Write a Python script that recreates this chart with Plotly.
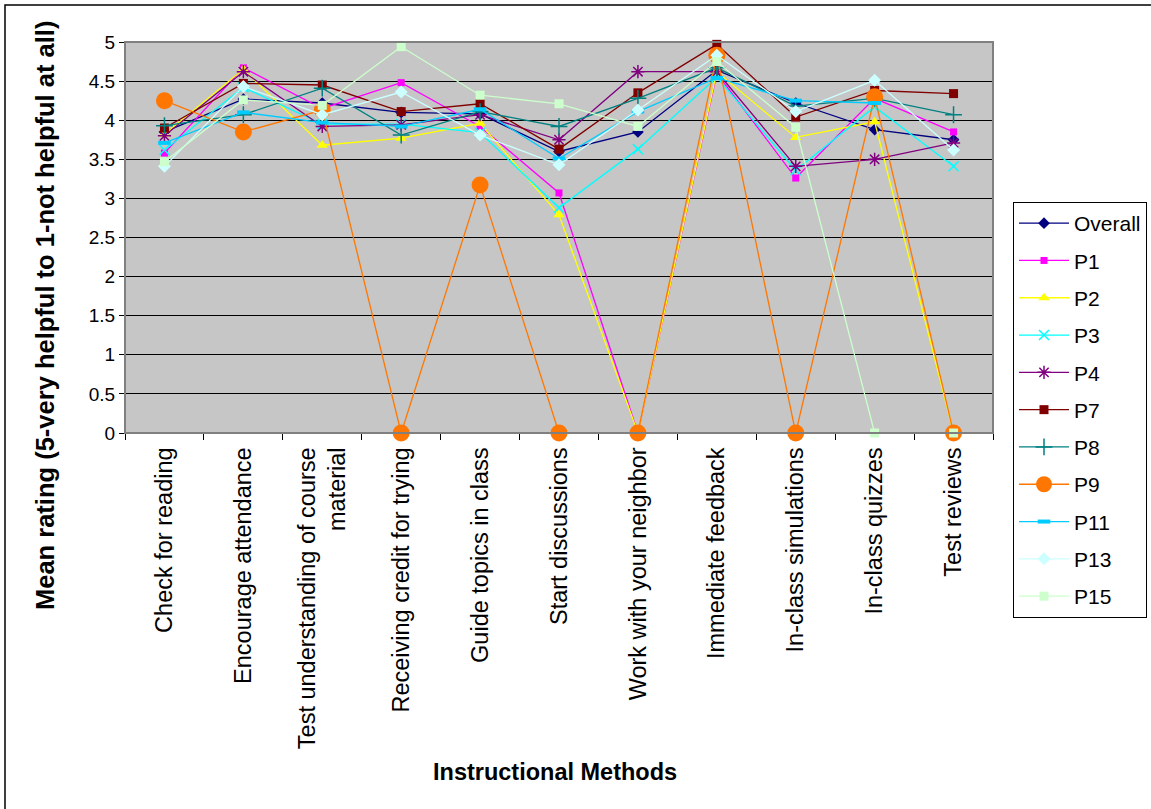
import plotly.graph_objects as go

# Instructional methods rated by each participant group
methods = [
    "Check for reading",
    "Encourage attendance",
    "Test understanding of course material",
    "Receiving credit for trying",
    "Guide topics in class",
    "Start discussions",
    "Work with your neighbor",
    "Immediate feedback",
    "In-class simulations",
    "In-class quizzes",
    "Test reviews",
]
method_labels = [
    "Check for reading",
    "Encourage attendance",
    "Test understanding of course<br>material",
    "Receiving credit for trying",
    "Guide topics in class",
    "Start discussions",
    "Work with your neighbor",
    "Immediate feedback",
    "In-class simulations",
    "In-class quizzes",
    "Test reviews",
]

overall = [3.85, 4.27, 4.22, 4.10, 4.08, 3.60, 3.85, 4.64, 4.22, 3.88, 3.75]
p1 = [3.58, 4.67, 4.15, 4.48, 3.92, 3.07, 0, 4.60, 3.26, 4.28, 3.85]
p2 = [3.82, 4.65, 3.68, 3.77, 3.96, 2.79, 0, 4.62, 3.78, 3.98, 0]
p3 = [3.62, 4.42, 3.95, 3.95, 3.84, 2.88, 3.63, 4.55, 3.36, 4.17, 3.41]
p4 = [3.80, 4.62, 3.92, 3.94, 4.07, 3.75, 4.62, 4.62, 3.41, 3.50, 3.71]
p7 = [3.90, 4.47, 4.45, 4.11, 4.21, 3.63, 4.35, 4.97, 4.04, 4.38, 4.34]
p8 = [3.93, 4.07, 4.41, 3.81, 4.11, 3.92, 4.28, 4.67, 4.18, 4.28, 4.07]
p9 = [4.25, 3.85, 4.13, 0, 3.17, 0, 0, 4.83, 0, 4.30, 0]
p11 = [3.71, 4.10, 3.97, 3.92, 4.14, 3.51, 4.11, 4.54, 4.25, 4.22, None]
p13 = [3.41, 4.43, 4.07, 4.36, 3.81, 3.43, 4.13, 4.83, 4.11, 4.51, 3.62]
p15 = [3.47, 4.26, 4.19, 4.94, 4.32, 4.21, 3.92, 4.75, 3.91, 0, 0]

y_ticks = [0, 0.5, 1, 1.5, 2, 2.5, 3, 3.5, 4, 4.5, 5]

FONT = "Liberation Sans, Arial, sans-serif"

# name, values, colour, marker symbol, marker size, open symbol
series = [
    ("Overall", overall, "#000080", "diamond", 9, False),
    ("P1", p1, "#FF00FF", "square", 7, False),
    ("P2", p2, "#FFFF00", "triangle-up", 10, False),
    ("P3", p3, "#00FFFF", "x-thin-open", 10, True),
    ("P4", p4, "#800080", "asterisk-open", 11, True),
    ("P7", p7, "#800000", "square", 9, False),
    ("P8", p8, "#008080", "cross-thin-open", 12, True),
    ("P9", p9, "#FF7700", "circle", 17, False),
    ("P11", p11, "#00CCFF", "line-ew-open", 9, True),
    ("P13", p13, "#CCFFFF", "diamond", 10, False),
    ("P15", p15, "#CCFFCC", "square", 9, False),
]

fig = go.Figure()
for i, (name, vals, color, symbol, size, is_open) in enumerate(series):
    marker = dict(symbol=symbol, size=size, color=color)
    if is_open:
        marker["line"] = dict(color=color, width=4 if name == "P11" else 1.5)
    else:
        marker["line"] = dict(width=0)
    fig.add_trace(go.Scatter(
        x=methods, y=vals, name=name, mode="lines+markers",
        line=dict(color=color, width=1.3), marker=marker,
        cliponaxis=False, connectgaps=False, legendgroup=f"g{i}",
    ))

W, H = 1151, 809
L, R, T, B = 125, 158, 42, 376
pw, ph = W - L - R, H - T - B


def px_x(x):
    return (x - L) / pw


def px_y(y):
    return (H - B - y) / ph


fig.update_layout(
    width=W, height=H,
    margin=dict(l=L, r=R, t=T, b=B, autoexpand=False),
    paper_bgcolor="white",
    plot_bgcolor="#C6C6C6",
    font=dict(family=FONT, size=18, color="black"),
    showlegend=True,
    legend=dict(
        x=px_x(1013), y=px_y(202), xanchor="left", yanchor="top",
        bgcolor="white", bordercolor="black", borderwidth=1,
        font=dict(family=FONT, size=21, color="black"),
        traceorder="grouped", tracegroupgap=7, itemwidth=50,
        maxheight=700,
    ),
    xaxis=dict(
        type="category", range=[-0.5, 10.5],
        tickvals=methods, ticktext=method_labels,
        tickangle=-90, tickson="boundaries",
        ticks="outside", ticklen=6, tickcolor="black", tickwidth=1,
        ticklabelstandoff=4,
        showline=True, linecolor="black", linewidth=1,
        showgrid=False, zeroline=False,
        tickfont=dict(family=FONT, size=23.5, color="black"),
    ),
    yaxis=dict(
        range=[0, 5], tickvals=y_ticks,
        ticktext=[f"{v:g}" for v in y_ticks],
        ticks="outside", ticklen=5, tickcolor="black",
        showline=True, linecolor="black", linewidth=1,
        showgrid=True, gridcolor="black", gridwidth=1,
        zeroline=False,
        tickfont=dict(family=FONT, size=19, color="black"),
    ),
    annotations=[
        dict(
            text="<b>Mean rating (5-very helpful to 1-not helpful at all)</b>",
            textangle=-90, x=px_x(45), y=px_y(316),
            xref="paper", yref="paper", showarrow=False,
            xanchor="center", yanchor="middle",
            font=dict(family=FONT, size=25.5, color="black"),
        ),
        dict(
            text="<b>Instructional Methods</b>",
            x=px_x(555), y=px_y(772),
            xref="paper", yref="paper", showarrow=False,
            xanchor="center", yanchor="middle",
            font=dict(family=FONT, size=23.5, color="black"),
        ),
    ],
    shapes=[
        # plot area frame
        dict(type="rect", xref="paper", yref="paper", x0=0, x1=1, y0=0, y1=1,
             line=dict(color="#808080", width=2), layer="above"),
        # chart frame
        dict(type="rect", xref="paper", yref="paper",
             x0=px_x(5), x1=px_x(1170), y0=px_y(830), y1=px_y(5),
             line=dict(color="black", width=1.5), layer="below"),
    ],
)

fig.write_html("out.html")
